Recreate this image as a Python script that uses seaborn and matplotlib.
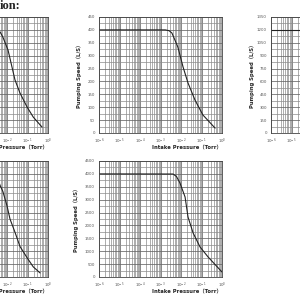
import numpy as np
import pandas as pd
import matplotlib
matplotlib.use("Agg")
import matplotlib.pyplot as plt
import matplotlib.ticker as mticker
import seaborn as sns

sns.set_style("white")
plt.rcParams['font.family'] = ['DejaVu Sans', 'Noto Sans CJK SC']

# ---- data ----
tl_pressure = [1e-6, 3e-3, 4.6e-3, 6.3e-3, 0.0112, 0.0175, 0.0245, 0.043, 0.095, 0.19, 0.51]
tl_speed = [400, 398, 392, 372, 322, 256, 206, 155, 101, 62, 23]

tm_pressure = [1e-6, 1.7e-3, 2.6e-3, 3.6e-3, 7e-3, 0.0126, 0.022, 0.048, 0.117, 0.46]
tm_speed = [400, 400, 397, 388, 334, 256, 194, 128, 70, 19]

tr_pressure = [1e-6, 2e-3, 5e-3, 0.02, 0.1, 0.5]
tr_speed = [1200, 1200, 1100, 700, 300, 60]

bl_pressure = [1e-6, 3e-3, 4.6e-3, 6.3e-3, 0.01, 0.014, 0.0245, 0.043, 0.095, 0.19, 0.41]
bl_speed = [4000, 3980, 3553, 3316, 2763, 2250, 1737, 1184, 750, 395, 158]

bm_pressure = [1e-6, 4.1e-3, 6.0e-3, 8.9e-3, 0.0158, 0.022, 0.039, 0.085, 0.21, 1.0]
bm_speed = [4000, 3995, 3900, 3646, 3103, 2327, 1707, 1164, 776, 194]

yticks_small = list(range(0, 451, 50))
yticks_mid = list(range(0, 1351, 150))
yticks_big = list(range(0, 4501, 500))
xtick_exps = [-6, -5, -4, -3, -2, -1, 0]

ylabel_text = "Pumping Speed（L/S）"
xlabel_text = "Intake Pressure（Torr）"
title_text = "ion:"

fig = plt.figure(figsize=(3, 3), dpi=100)
W, H = 300.0, 300.0


def make_ax(x0, x1, y0, y1):
    return fig.add_axes([x0 / W, 1 - y1 / H, (x1 - x0) / W, (y1 - y0) / H])


def style(ax, yticks, pressure, speed, labelpad=4):
    df = pd.DataFrame({"p": pressure, "s": speed})
    sns.lineplot(data=df, x="p", y="s", ax=ax, color="#222222", lw=0.8,
                 estimator=None, sort=False)
    ax.set_xscale("log")
    ax.set_xlim(1e-6, 1e0)
    ax.set_ylim(yticks[0], yticks[-1])
    ax.set_yticks(yticks)
    ax.yaxis.set_minor_locator(mticker.MultipleLocator((yticks[1] - yticks[0]) / 2))
    ax.set_xticks([10.0 ** e for e in xtick_exps])
    ax.set_xticklabels([f"10$^{{{e}}}$" for e in xtick_exps])
    ax.xaxis.set_minor_locator(mticker.LogLocator(base=10, subs=np.arange(2, 10), numticks=20))
    ax.xaxis.set_minor_formatter(mticker.NullFormatter())
    ax.grid(which="major", color="#666666", lw=0.55)
    ax.grid(which="minor", color="#8c8c8c", lw=0.5)
    ax.tick_params(which="both", length=0, labelsize=2.8, colors="#555555", pad=3)
    for sp in ax.spines.values():
        sp.set_color("#444444")
        sp.set_linewidth(0.6)
    ax.set_xlabel("")
    ax.set_ylabel(ylabel_text, fontsize=3.8, fontweight="bold", labelpad=labelpad)


ax_tl = make_ax(-75, 48, 17, 133)
style(ax_tl, yticks_small, tl_pressure, tl_speed)
ax_tm = make_ax(99, 222, 17, 133)
style(ax_tm, yticks_small, tm_pressure, tm_speed)
ax_tr = make_ax(271, 394, 17, 133)
style(ax_tr, yticks_mid, tr_pressure, tr_speed, labelpad=1)
ax_bl = make_ax(-75, 48, 161, 277)
style(ax_bl, yticks_big, bl_pressure, bl_speed)
ax_bm = make_ax(99, 222, 161, 277)
style(ax_bm, yticks_big, bm_pressure, bm_speed)

for ax in [ax_tl, ax_tm, ax_bl, ax_bm]:
    ax.text(1.0, -0.13, xlabel_text, transform=ax.transAxes, ha="right", va="center",
            fontsize=3.8, fontweight="bold", color="#222222")

fig.text(0 / W, 1 - 6 / H, title_text, fontsize=9, fontweight="bold",
         family=["Liberation Serif"], ha="left", va="center")

fig.savefig("out.png", dpi=100)
